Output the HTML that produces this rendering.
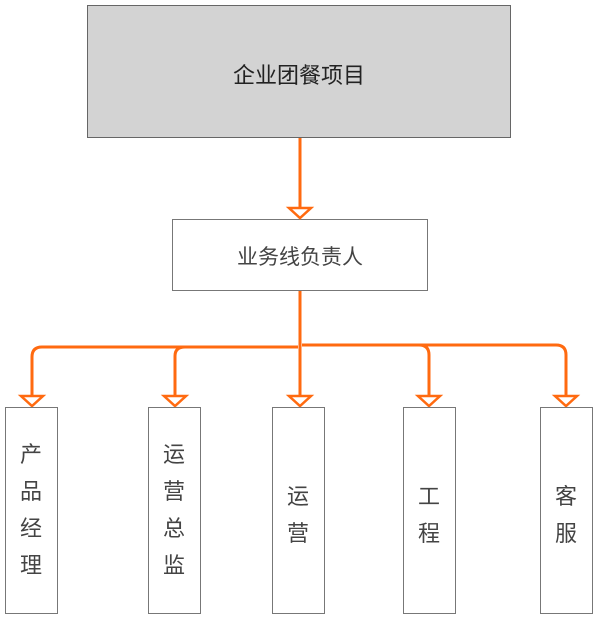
<!DOCTYPE html>
<html><head><meta charset="utf-8"><style>
body{margin:0;width:600px;height:617px;background:#fff;position:relative;overflow:hidden;font-family:"Liberation Sans","Noto Sans CJK SC",sans-serif;color:#333}
.b{position:absolute;border:1.5px solid #777;box-sizing:border-box;background:#fff}
.v{position:absolute;width:52px;text-align:center;font-size:22px;line-height:37px;color:#444}
</style></head><body>
<div class="b" style="left:87px;top:5px;width:424px;height:133px;background:#d3d3d3;border-color:#666"></div>
<div style="position:absolute;left:87px;top:58px;width:424px;text-align:center;font-size:22px;color:#222">企业团餐项目</div>
<div class="b" style="left:172px;top:219px;width:256px;height:72px"></div>
<div style="position:absolute;left:172px;top:241px;width:256px;text-align:center;font-size:21px;color:#444">业务线负责人</div>
<svg style="position:absolute;left:0;top:0" width="600" height="617">
<g fill="none" stroke="#ff6a10" stroke-width="3">
<line x1="300" y1="138" x2="300" y2="208"/>
<line x1="300" y1="291" x2="300" y2="396"/>
<path d="M298 347 H42 Q32 347 32 357 V396"/>
<path d="M175 396 V356 Q175 347 185 347"/>
<path d="M302 345 H556 Q566 345 566 355 V396"/>
<path d="M429 396 V355 Q429 345 419 345"/>
</g>
<g fill="#fff" stroke="#ff6a10" stroke-width="2.5">
<polygon points="289,208 311,208 300,218"/>
<polygon points="21,396 43,396 32,406"/>
<polygon points="164,396 186,396 175,406"/>
<polygon points="289,396 311,396 300,406"/>
<polygon points="418,396 440,396 429,406"/>
<polygon points="555,396 577,396 566,406"/>
</g>
</svg>
<div class="b" style="left:5px;top:407px;width:53px;height:207px"></div>
<div class="b" style="left:148px;top:407px;width:53px;height:207px"></div>
<div class="b" style="left:272px;top:407px;width:53px;height:207px"></div>
<div class="b" style="left:403px;top:407px;width:53px;height:207px"></div>
<div class="b" style="left:540px;top:407px;width:53px;height:207px"></div>
<div class="v" style="left:5px;top:436px">产<br>品<br>经<br>理</div>
<div class="v" style="left:148px;top:436px">运<br>营<br>总<br>监</div>
<div class="v" style="left:272px;top:478px">运<br>营</div>
<div class="v" style="left:403px;top:478px">工<br>程</div>
<div class="v" style="left:540px;top:478px">客<br>服</div>
</body></html>
